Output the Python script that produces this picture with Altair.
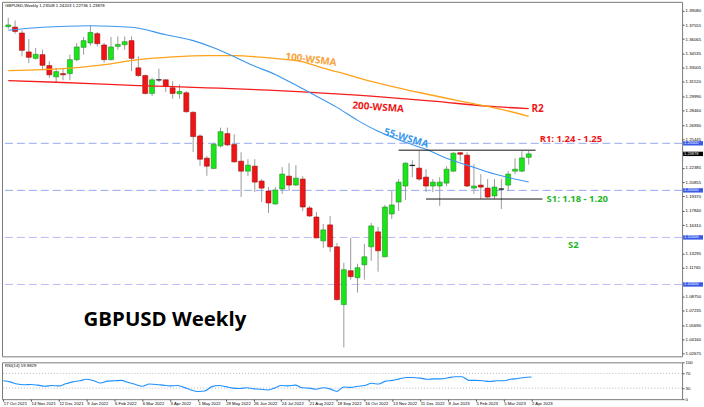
import json
import numpy as np
import pandas as pd
import altair as alt

# ---------------- data ----------------
x_labels = ["17 Oct 2021", "14 Nov 2021", "12 Dec 2021", "9 Jan 2022", "6 Feb 2022",
            "6 Mar 2022", "3 Apr 2022", "1 May 2022", "29 May 2022", "26 Jun 2022",
            "24 Jul 2022", "21 Aug 2022", "18 Sep 2022", "16 Oct 2022", "13 Nov 2022",
            "11 Dec 2022", "8 Jan 2023", "5 Feb 2023", "5 Mar 2023", "2 Apr 2023"]

opens = [1.3740, 1.3735, 1.3672, 1.3471, 1.3403, 1.3442, 1.3326, 1.3206, 1.3241, 1.3241,
         1.3389, 1.3520, 1.3566, 1.3665, 1.3545, 1.3389, 1.3530, 1.3548, 1.3591, 1.3302,
         1.3220, 1.3030, 1.3175, 1.3175, 1.3090, 1.3027, 1.3037, 1.2829, 1.2578, 1.2342,
         1.2233, 1.2472, 1.2603, 1.2487, 1.2310, 1.2204, 1.2257, 1.2099, 1.1993, 1.1855,
         1.2014, 1.2151, 1.2056, 1.2120, 1.1813, 1.1717, 1.1464, 1.1633, 1.1400, 1.0786,
         1.1146, 1.1072, 1.1209, 1.1400, 1.1559, 1.1294, 1.1749, 1.1876, 1.2046, 1.2268,
         1.2236, 1.2141, 1.2046, 1.2046, 1.2077, 1.2204, 1.2400, 1.2374, 1.2024, 1.2056,
         1.2024, 1.1940, 1.2016, 1.2056, 1.2204, 1.2204, 1.23508]
highs = [1.3834, 1.3805, 1.3700, 1.3608, 1.3513, 1.3495, 1.3372, 1.3302, 1.3302, 1.3442,
         1.3566, 1.3630, 1.3749, 1.3683, 1.3566, 1.3630, 1.3636, 1.3636, 1.3636, 1.3424,
         1.3231, 1.3196, 1.3294, 1.3178, 1.3160, 1.3125, 1.3054, 1.2842, 1.2596, 1.2366,
         1.2508, 1.2667, 1.2667, 1.2596, 1.2405, 1.2331, 1.2331, 1.2120, 1.2035, 1.2035,
         1.2247, 1.2289, 1.2268, 1.2151, 1.1834, 1.1770, 1.1644, 1.1728, 1.1442, 1.1231,
         1.1495, 1.1220, 1.1432, 1.1654, 1.1612, 1.1845, 1.1993, 1.2120, 1.2299, 1.2320,
         1.2419, 1.2225, 1.2120, 1.2141, 1.2257, 1.2405, 1.2405, 1.2405, 1.2278, 1.2173,
         1.2120, 1.2120, 1.2120, 1.2204, 1.2342, 1.2416, 1.24203]
lows = [1.3716, 1.3665, 1.3424, 1.3353, 1.3389, 1.3276, 1.3196, 1.3149, 1.3170, 1.3170,
        1.3372, 1.3442, 1.3538, 1.3530, 1.3355, 1.3382, 1.3495, 1.3495, 1.3266, 1.3206,
        1.3019, 1.3001, 1.3149, 1.3043, 1.2974, 1.2974, 1.2825, 1.2409, 1.2260, 1.2155,
        1.2225, 1.2455, 1.2472, 1.2296, 1.1929, 1.2151, 1.1982, 1.1876, 1.1760, 1.1848,
        1.1961, 1.1993, 1.2046, 1.1781, 1.1717, 1.1490, 1.1390, 1.1347, 1.0829, 1.0331,
        1.1051, 1.0914, 1.1051, 1.1252, 1.1136, 1.1290, 1.1696, 1.1781, 1.1897, 1.2140,
        1.2102, 1.1982, 1.1982, 1.1834, 1.2046, 1.2194, 1.2310, 1.2035, 1.1961, 1.1908,
        1.1919, 1.1908, 1.1802, 1.1993, 1.2173, 1.2194, 1.22736]
closes = [1.3758, 1.3689, 1.3488, 1.3414, 1.3446, 1.3329, 1.3228, 1.3262, 1.3228, 1.3389,
          1.3524, 1.3591, 1.3678, 1.3559, 1.3389, 1.3524, 1.3551, 1.3580, 1.3403, 1.3220,
          1.3030, 1.3175, 1.3172, 1.3107, 1.3030, 1.3051, 1.2836, 1.2572, 1.2331, 1.2257,
          1.2490, 1.2624, 1.2483, 1.2303, 1.2204, 1.2268, 1.2088, 1.2024, 1.1866, 1.2004,
          1.2173, 1.2056, 1.2130, 1.1823, 1.1728, 1.1495, 1.1580, 1.1400, 1.0839, 1.1157,
          1.1083, 1.1178, 1.1294, 1.1622, 1.1358, 1.1823, 1.1845, 1.2088, 1.2289, 1.2263,
          1.2120, 1.2046, 1.2088, 1.2088, 1.2225, 1.2395, 1.2384, 1.2046, 1.2046, 1.2035,
          1.1929, 1.2035, 1.2012, 1.2173, 1.2225, 1.2345, 1.23878]

ma55_week = [0, 5, 12, 18, 23, 27, 30, 33, 36, 39, 41, 44, 48, 51, 54, 58, 61, 64, 67, 71, 76]
ma55_val = [1.3702, 1.3733, 1.3749, 1.3733, 1.3654, 1.3591, 1.3516, 1.3421, 1.3319, 1.3231,
            1.3157, 1.3040, 1.2882, 1.2744, 1.2628, 1.2511, 1.2437, 1.2342, 1.2268, 1.2173, 1.2088]
ma100_week = [0, 5, 10, 14, 19, 24, 29, 33, 38, 43, 46, 50, 53, 60, 67, 72, 76]
ma100_val = [1.3273, 1.3284, 1.3305, 1.3337, 1.3389, 1.3418, 1.3432, 1.3432, 1.3408, 1.3366,
             1.3300, 1.3220, 1.3157, 1.3040, 1.2934, 1.2860, 1.2786]
ma200_week = [0, 7, 19, 29, 38, 43, 53, 62, 70, 76]
ma200_val = [1.3167, 1.3149, 1.3114, 1.3090, 1.3065, 1.3046, 1.3001, 1.2948, 1.2895, 1.2868]

rsi_vals = [50, 47, 41, 39, 40, 38, 35, 37, 36, 42, 47, 50, 54, 50, 44, 49, 50, 51, 45, 40,
            35, 41, 40, 38, 36, 37, 32, 25, 21, 22, 34, 37, 34, 30, 29, 31, 28, 27, 25, 30,
            37, 36, 38, 31, 30, 27, 31, 28, 21, 33, 32, 35, 37, 43, 41, 49, 51, 55, 59, 59,
            57, 54, 55, 55, 58, 61, 61, 51, 51, 50, 48, 50, 50, 54, 56, 59, 60]

round_levels = [1.25, 1.20, 1.15, 1.10]
round_labels = ["1.25000", "1.20000", "1.15000", "1.10000"]
price_ticks = [1.39080, 1.37555, 1.36065, 1.34535, 1.33005, 1.31520, 1.29990, 1.28460,
               1.26930, 1.25445, 1.22385, 1.20855, 1.19370, 1.17840, 1.16310, 1.13295,
               1.11765, 1.08750, 1.07235, 1.05690, 1.04160, 1.02675]
last_price = 1.23878
resistance = {"from": 57.0, "to": 77.0, "price": 1.2427}
support = {"from": 61.0, "to": 78.0, "price": 1.1908}
header = "GBPUSD,Weekly  1.23508 1.24203 1.22736 1.23878"
rsi_title = "RSI(14) 59.9829"

# ---------------- frames ----------------
week = list(range(len(opens)))
df = pd.DataFrame({"w": week, "o": opens, "h": highs, "l": lows, "c": closes})
diff = df["c"] - df["o"]
df["dir"] = np.where(diff.abs() < 0.0006, "doji", np.where(diff > 0, "up", "down"))

FS = 4.3
FONT = "Liberation Sans"
xsc = alt.Scale(domain=[-0.186, 97.665], nice=False, zero=False)
ysc = alt.Scale(domain=[1.02361, 1.40032], nice=False, zero=False)
X = alt.X("w:Q", scale=xsc, axis=None)

yaxis = alt.Axis(orient="right", values=price_ticks, format=".5f", labelFontSize=FS,
                 labelFont=FONT, labelColor="#000", tickSize=2, tickColor="#555",
                 labelPadding=1, domain=False, grid=False, title=None)


def Y(field):
    return alt.Y(field, scale=ysc, axis=yaxis)


wicks = alt.Chart(df).mark_rule(color="#9a9a9a", strokeWidth=1).encode(
    x=X, y=Y("l:Q"), y2="h:Q")

body_style = {"up": ("#19e619", "#2b8c2b"), "down": ("#f01414", "#9c1010"), "doji": ("#000000", "#000000")}
bodies = [
    alt.Chart(df).transform_filter(alt.datum.dir == k).mark_bar(
        size=5, strokeWidth=0.6, fill=f, stroke=s, opacity=1).encode(x=X, y=Y("o:Q"), y2="c:Q")
    for k, (f, s) in body_style.items()
]


def ma_line(weeks, vals, color, width):
    d = pd.DataFrame({"w": weeks, "v": vals})
    return alt.Chart(d).mark_line(color=color, strokeWidth=width, interpolate="monotone").encode(
        x=X, y=Y("v:Q"))


ma55 = ma_line(ma55_week, ma55_val, "#3b96ee", 1.1)
ma100 = ma_line(ma100_week, ma100_val, "#ffa31a", 1.3)
ma200 = ma_line(ma200_week, ma200_val, "#f51d1d", 1.3)

lv = pd.DataFrame({"p": round_levels, "lab": round_labels})
levels_a = alt.Chart(lv.iloc[:2]).mark_rule(strokeDash=[8, 4], strokeWidth=1, color="#94aaf0").encode(y=Y("p:Q"))
levels_b = alt.Chart(lv.iloc[2:]).mark_rule(strokeDash=[8, 4], strokeWidth=1, color="#b9b9f7").encode(y=Y("p:Q"))

sr = pd.DataFrame({"a": [resistance["from"], support["from"]],
                   "b": [resistance["to"], support["to"]],
                   "p": [resistance["price"], support["price"]]})
sr_lines = alt.Chart(sr).mark_rule(color="#111", strokeWidth=1).encode(
    x=alt.X("a:Q", scale=xsc, axis=None), x2="b:Q", y=Y("p:Q"))


def label(text, w, p, color, size=10, angle=0, align="center", baseline="middle"):
    d = pd.DataFrame({"w": [w], "p": [p], "t": [text]})
    kw = dict(color=color, fontSize=size, font="Open Sans", fontWeight="bold",
              align=align, baseline=baseline)
    if angle:
        kw["angle"] = angle
    return alt.Chart(d).mark_text(**kw).encode(x=X, y=Y("p:Q"), text="t:N")


texts = [
    label("100-WSMA", 44.2, 1.3389, "#f7a33a", 10, 7),
    label("200-WSMA", 54.0, 1.2882, "#ee1616", 10, 4),
    label("55-WSMA", 58.1, 1.2554, "#3a98ee", 10, 17),
    label("R2", 77.3, 1.2860, "#ee1616", 10),
    label("R1: 1.24 - 1.25", 77.6, 1.2548, "#ee1616", 9.5, align="left"),
    label("S1: 1.18 - 1.20", 78.6, 1.1908, "#1fb51f", 9.5, align="left"),
    label("S2", 82.5, 1.1416, "#1fb51f", 9.5),
    label("GBPUSD Weekly", 11.0, 1.0554, "#000000", 20.5, align="left", baseline="alphabetic"),
]

boxes_df = pd.DataFrame({"p": round_levels + [last_price],
                         "lab": round_labels + [f"{last_price:.5f}"]})
boxes_lvl = alt.Chart(boxes_df.iloc[:4]).mark_tick(thickness=4.4, size=20, opacity=1, color="#3a5ae8").encode(
    x=alt.value(694), y=Y("p:Q"))
boxes_last = alt.Chart(boxes_df.iloc[4:]).mark_tick(thickness=4.4, size=20, opacity=1, color="#000000").encode(
    x=alt.value(694), y=Y("p:Q"))
box_text = alt.Chart(boxes_df).mark_text(fontSize=4, font=FONT, color="white",
                                         align="left", baseline="middle").encode(
    x=alt.value(685), y=Y("p:Q"), text="lab:N")

head = alt.Chart(pd.DataFrame({"t": [header]})).mark_text(
    fontSize=FS, font=FONT, color="#000", align="left", baseline="top").encode(
    x=alt.value(3), y=alt.value(2), text="t:N")

main = alt.layer(levels_a, levels_b, wicks, *bodies, ma200, ma100, ma55, sr_lines, *texts,
                 boxes_lvl, boxes_last, box_text, head).properties(width=683, height=356)

# ---------------- RSI panel ----------------
rdf = pd.DataFrame({"w": week, "r": rsi_vals})
rsc = alt.Scale(domain=[0, 100], nice=False, zero=False)
xlab_expr = json.dumps(x_labels) + "[round(datum.value/4)]"
xaxis = alt.Axis(values=list(range(0, 4 * len(x_labels), 4)), labelExpr=xlab_expr,
                 labelAlign="left", labelFontSize=FS, labelFont=FONT, labelColor="#000",
                 tickSize=2, tickColor="#555", labelPadding=0, labelOverlap=False, labelFlush=False,
                 domain=False, grid=False, title=None)
raxis = alt.Axis(orient="right", values=[0, 30, 70, 100], labelFontSize=FS, labelFont=FONT,
                 labelColor="#000", tickSize=2, tickColor="#555", labelPadding=1, domain=False,
                 grid=False, title=None)
XR = alt.X("w:Q", scale=xsc, axis=xaxis)
rsi_line = alt.Chart(rdf).mark_line(color="#1e90ff", strokeWidth=1.1, interpolate="monotone").encode(
    x=XR, y=alt.Y("r:Q", scale=rsc, axis=raxis))
rl = alt.Chart(pd.DataFrame({"r": [30, 70]})).mark_rule(color="#b5b5b5", strokeDash=[1, 2]).encode(
    y=alt.Y("r:Q", scale=rsc, axis=raxis))
rtitle = alt.Chart(pd.DataFrame({"t": [rsi_title]})).mark_text(
    fontSize=FS, font=FONT, color="#000", align="left", baseline="top").encode(
    x=alt.value(3), y=alt.value(2), text="t:N")
rsi = alt.layer(rl, rsi_line, rtitle).properties(width=683, height=37)

chart = alt.vconcat(main, rsi, spacing=2).resolve_scale(y="independent").properties(
    padding={"left": 0, "top": 0, "right": 0, "bottom": 0}, background="white"
).configure_view(stroke="#7a7a7a", strokeWidth=1)

chart.save("out.html", embed_options={"renderer": "svg", "actions": False})
